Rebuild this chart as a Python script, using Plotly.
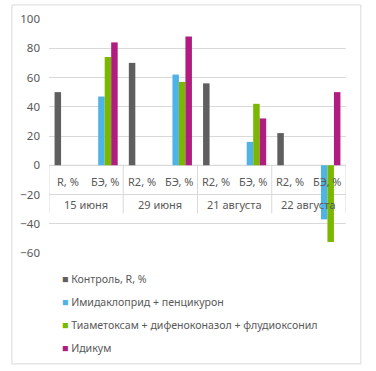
import plotly.graph_objects as go

sub_labels = ["R, %", "БЭ, %", "R2, %", "БЭ, %", "R2, %", "БЭ, %", "R2, %", "БЭ, %"]
group_labels = ["15 июня", "29 июня", "21 августа", "22 августа"]
series_names = ["Контроль, R, %", "Имидаклоприд + пенцикурон",
                "Тиаметоксам + дифеноконазол + флудиоксонил", "Идикум"]
control = [50, None, 70, None, 56, None, 22, None]
imida = [None, 47, None, 62, None, 16, None, -37]
tiam = [None, 74, None, 57, None, 42, None, -52.5]
idikum = [None, 84, None, 88, None, 32, None, 50]
y_ticks = [-60, -40, -20, 0, 20, 40, 60, 80, 100]

colors = ["#5f5f5f", "#4fb3e8", "#7ab800", "#b01c7f"]
FONT = "Noto Sans"
TXT = "#595959"
GRID = "#d9d9d9"

x = list(range(len(sub_labels)))
fig = go.Figure()
for name, vals, c in zip(series_names, [control, imida, tiam, idikum], colors):
    fig.add_trace(go.Bar(x=x, y=vals, name=name, marker_color=c, marker_line_width=0,
                         showlegend=False))

# category labels
for i, t in enumerate(sub_labels):
    fig.add_annotation(x=i, y=-11, text=t, showarrow=False, xref="x", yref="y",
                       font=dict(size=11, color=TXT, family=FONT))
for g, t in enumerate(group_labels):
    fig.add_annotation(x=2 * g + 0.5, y=-27, text=t, showarrow=False, xref="x", yref="y",
                       font=dict(size=11, color=TXT, family=FONT))
# category dividers
for g in range(len(group_labels) + 1):
    fig.add_shape(type="line", xref="x", yref="y", x0=2 * g - 0.5, x1=2 * g - 0.5,
                  y0=0, y1=-33, line=dict(color=GRID, width=1), layer="below")
fig.add_shape(type="line", xref="x", yref="y", x0=-0.5, x1=len(sub_labels) - 0.5,
              y0=0, y1=0, line=dict(color=GRID, width=1), layer="below")

# legend (drawn as text entries)
for k, (name, c) in enumerate(zip(series_names, colors)):
    fig.add_annotation(x=0.037, y=-0.111 - k * 0.098, xref="paper", yref="paper",
                       xanchor="left", yanchor="middle", showarrow=False,
                       text=f"<span style='color:{c}'>■</span> {name}",
                       font=dict(size=10.6, color=TXT, family=FONT))

# outer border
fig.add_shape(type="rect", xref="paper", yref="paper", x0=-0.125, x1=1.05,
              y0=-0.474, y1=1.06, line=dict(color=GRID, width=1))

fig.update_layout(
    width=376, height=371,
    margin=dict(l=49, r=30, t=19, b=118, autoexpand=False),
    paper_bgcolor="white", plot_bgcolor="white",
    barmode="group", bargap=0.3, bargroupgap=0.0,
    font=dict(family=FONT, size=11, color=TXT),
    showlegend=False,
    xaxis=dict(range=[-0.5, len(sub_labels) - 0.5], showticklabels=False,
               showgrid=False, zeroline=False, showline=False, fixedrange=True),
    yaxis=dict(range=[-60, 100], tickvals=y_ticks, showgrid=True, gridcolor=GRID,
               zeroline=False, showline=False, ticks="", ticklen=0,
               ticklabelstandoff=8,
               tickfont=dict(size=11.5, color=TXT, family=FONT)),
)
fig.write_html("out.html", config={"displayModeBar": False},
               post_script="document.body.style.margin='0px';")
